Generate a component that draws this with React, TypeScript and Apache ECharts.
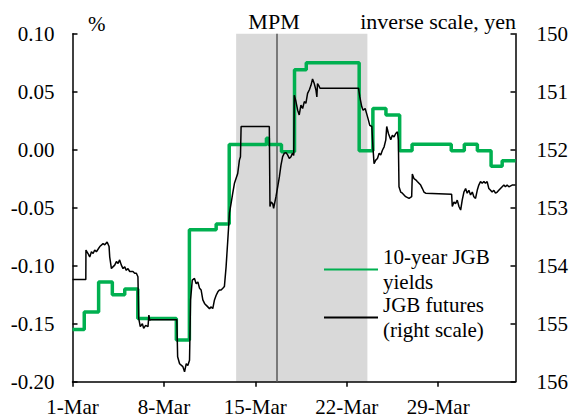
import React, { useEffect, useRef } from 'react';
import * as echarts from 'echarts';

// x values are days counted from 1-Mar (0 = 1-Mar)
const tickDays = [0, 7, 14, 21, 28];
const tickLabels = ['1-Mar', '8-Mar', '15-Mar', '22-Mar', '29-Mar'];
const xMax = 33.92;

const mpmPeriod = [12.53, 22.58];
const mpmDay = 15.66;

// 10-year JGB yields (%), step values
const yieldDays = [0, 0.9, 2.0, 3.05, 4.0, 5.0, 7.95, 8.95, 11.0, 12.0, 14.85, 15.0, 16.0, 17.0, 17.9, 21.95, 23.0, 24.0, 25.05, 26.0, 29.0, 30.0, 31.0, 32.05, 32.9, 33.92];
const yieldValues = [-0.155, -0.14, -0.114, -0.125, -0.12, -0.1455, -0.164, -0.069, -0.064, 0.0045, 0.0098, 0.0045, -0.0018, 0.069, 0.075, -0.001, 0.0355, 0.03, -0.001, 0.0048, -0.001, 0.0048, -0.001, -0.0143, -0.0095, -0.0095];

// JGB futures (yen), right inverse scale
const futuresDays = [
  0, 1.02, 1.03, 1.19, 1.32, 1.45, 1.58, 1.7, 1.83, 2.09, 2.34, 2.47, 2.65, 2.8, 2.85, 2.98, 3.1, 3.23, 3.36, 3.49,
  3.61, 3.74, 3.87, 4.0, 4.12, 4.25, 4.38, 4.63, 4.76, 4.89, 5.01, 5.07, 5.19, 5.35, 5.45, 5.6, 5.78, 5.85, 5.91, 6.03,
  7.99, 8.05, 8.2, 8.45, 8.58, 8.71, 8.83, 8.96, 9.04, 9.17, 9.34, 9.47, 9.6, 9.73, 9.85, 9.98, 10.11, 10.23, 10.36, 10.49,
  10.62, 10.74, 10.87, 11.0, 11.13, 11.25, 11.38, 11.51, 11.63, 11.76, 11.89, 12.02, 12.14, 12.27, 12.4, 12.65, 12.78, 12.86, 12.91, 15.07,
  15.12, 15.2, 15.33, 15.4, 15.58, 15.71, 15.84, 15.96, 16.09, 16.22, 16.35, 16.47, 16.6, 16.73, 16.85, 16.94, 16.98, 17.11, 17.24, 17.36,
  17.49, 17.62, 17.75, 17.87, 18.0, 18.13, 18.26, 18.38, 18.51, 18.64, 18.71, 18.76, 18.89, 18.95, 21.9, 22.0, 22.15, 22.25, 22.41, 22.51,
  22.66, 22.76, 22.92, 23.02, 23.09, 23.22, 23.35, 23.48, 23.6, 23.73, 23.86, 23.99, 24.06, 24.19, 24.29, 24.37, 24.49, 24.62, 24.75, 24.88,
  24.95, 25.0, 25.13, 25.26, 25.51, 25.77, 25.97, 26.02, 26.15, 26.28, 26.4, 26.53, 26.66, 26.79, 26.91, 27.04, 29.03, 29.08, 29.21, 29.33,
  29.46, 29.59, 29.72, 29.84, 29.97, 30.1, 30.22, 30.35, 30.48, 30.61, 30.73, 30.86, 30.99, 31.11, 31.24, 31.37, 31.5, 31.62, 31.75, 31.88,
  32.01, 32.13, 32.26, 32.39, 32.52, 32.64, 32.77, 32.9, 33.03, 33.15, 33.28, 33.41, 33.66, 33.92,
];
const futuresValues = [
  154.24, 154.24, 153.73, 153.79, 153.85, 153.76, 153.79, 153.73, 153.76, 153.67, 153.62, 153.64, 153.59, 153.67, 153.85, 154.05, 154.02, 153.99, 153.93, 153.96,
  153.9, 153.99, 154.05, 154.02, 154.08, 154.05, 154.1, 154.1, 154.13, 154.13, 154.19, 154.91, 155.05, 155.0, 155.08, 155.03, 155.05, 154.85, 154.94, 154.93,
  154.93, 155.57, 155.69, 155.74, 155.83, 155.69, 155.72, 155.63, 154.59, 154.25, 154.22, 154.31, 154.28, 154.39, 154.42, 154.59, 154.65, 154.68, 154.71, 154.74,
  154.71, 154.74, 154.59, 154.51, 154.45, 154.42, 154.42, 154.39, 154.36, 154.02, 153.56, 153.09, 152.93, 152.75, 152.58, 152.41, 152.18, 152.12, 151.6, 151.6,
  152.98, 152.9, 152.93, 153.01, 152.81, 152.64, 152.47, 152.27, 152.12, 152.06, 152.05, 152.09, 152.15, 152.12, 152.06, 152.1, 151.06, 151.17, 151.32, 151.4,
  151.23, 151.29, 151.17, 151.2, 151.03, 150.97, 150.89, 150.78, 150.86, 150.97, 151.09, 150.86, 150.91, 150.94, 150.94, 151.09, 151.26, 151.32, 151.29, 151.37,
  151.49, 151.58, 151.6, 152.01, 152.24, 152.18, 152.15, 152.06, 152.09, 152.01, 151.95, 151.83, 151.6, 151.72, 151.78, 151.83, 151.75, 151.78, 151.72, 151.69,
  151.83, 152.64, 152.73, 152.75, 152.81, 152.84, 152.81, 152.42, 152.5, 152.52, 152.55, 152.58, 152.61, 152.67, 152.73, 152.75, 152.77, 152.98, 152.9, 152.93,
  152.87, 152.98, 153.04, 152.87, 152.73, 152.67, 152.75, 152.7, 152.78, 152.73, 152.81, 152.84, 152.7, 152.61, 152.55, 152.58, 152.55, 152.58, 152.55, 152.67,
  152.7, 152.73, 152.7, 152.75, 152.73, 152.7, 152.67, 152.64, 152.61, 152.64, 152.61, 152.64, 152.61, 152.61,
];

const FONT = 'Liberation Serif';
const FS = 21;
const FS_NOTE = 22;

export default function App() {
  const ref = useRef<HTMLDivElement>(null);
  useEffect(() => {
    if (!ref.current) return;
    const chart = echarts.init(ref.current, null, { renderer: 'svg' });
    const yieldData = yieldDays.map((d, i) => [d, yieldValues[i]]);
    const futuresData = futuresDays.map((d, i) => [d, futuresValues[i]]);
    const axisLine = { show: true, lineStyle: { color: '#000', width: 1.5 } };
    const label = { color: '#000', fontFamily: FONT, fontSize: FS };
    chart.setOption({
      animation: false,
      backgroundColor: '#fff',
      textStyle: { fontFamily: FONT },
      grid: { left: 72.5, right: 54.5, top: 33.7, bottom: 36.3, containLabel: false },
      xAxis: {
        type: 'value',
        min: 0,
        max: xMax,
        interval: 7,
        axisLine: { ...axisLine, onZero: false },
        axisTick: { show: true, inside: false, length: 5, lineStyle: { color: '#000', width: 1.5 }, customValues: tickDays },
        axisLabel: {
          ...label,
          margin: 15,
          customValues: tickDays,
          formatter: (v: number) => {
            const i = tickDays.indexOf(Math.round(v));
            return i >= 0 ? tickLabels[i] : '';
          },
        },
        splitLine: { show: false },
      },
      yAxis: [
        {
          type: 'value',
          min: -0.2,
          max: 0.1,
          interval: 0.05,
          axisLine,
          axisTick: { show: true, inside: true, length: 5, lineStyle: { color: '#000', width: 1.5 } },
          axisLabel: { ...label, margin: 18, formatter: (v: number) => v.toFixed(2) },
          splitLine: { show: false },
        },
        {
          type: 'value',
          inverse: true,
          min: 150,
          max: 156,
          interval: 1,
          position: 'right',
          axisLine,
          axisTick: { show: true, inside: true, length: 5, lineStyle: { color: '#000', width: 1.5 } },
          axisLabel: { ...label, margin: 21, formatter: (v: number) => String(v) },
          splitLine: { show: false },
        },
      ],
      legend: {
        orient: 'vertical',
        left: 323,
        top: 232,
        padding: 0,
        itemGap: -27,
        itemWidth: 54,
        itemHeight: 14,
        itemStyle: { opacity: 0 },
        textStyle: { ...label, lineHeight: 25, padding: [25, 0, 0, 0] },
        formatter: (name: string) => (name === 'yields' ? '10-year JGB\nyields' : 'JGB futures\n(right scale)'),
        data: ['yields', 'futures'],
      },
      graphic: [
        { type: 'text', left: 88, top: 13, style: { text: '%', font: `${FS}px ${FONT}`, fill: '#000' } },
        { type: 'text', right: 55, top: 10, style: { text: 'inverse scale, yen', font: `${FS_NOTE}px ${FONT}`, fill: '#000' } },
      ],
      series: [
        {
          name: 'yields',
          type: 'line',
          yAxisIndex: 0,
          step: 'end',
          symbol: 'none',
          data: yieldData,
          lineStyle: { color: '#00b050', width: 3.5 },
          itemStyle: { color: '#00b050' },
          z: 3,
          markArea: {
            silent: true,
            z: 0,
            itemStyle: { color: '#d9d9d9' },
            data: [[{ xAxis: mpmPeriod[0] }, { xAxis: mpmPeriod[1] }]],
          },
          markLine: {
            silent: true,
            z: 1,
            symbol: 'none',
            lineStyle: { color: '#595959', width: 1.5, type: 'solid' },
            label: { show: true, position: 'end', formatter: 'MPM', color: '#000', fontFamily: FONT, fontSize: FS_NOTE, distance: 1, offset: [-3, 0] },
            data: [{ xAxis: mpmDay }],
          },
        },
        {
          name: 'futures',
          type: 'line',
          yAxisIndex: 1,
          symbol: 'none',
          data: futuresData,
          lineStyle: { color: '#000', width: 1.5 },
          itemStyle: { color: '#000' },
          z: 4,
        },
      ],
    });
    return () => chart.dispose();
  }, []);
  return <div ref={ref} style={{ position: 'fixed', left: 0, top: 0, width: 571, height: 418 }} />;
}
